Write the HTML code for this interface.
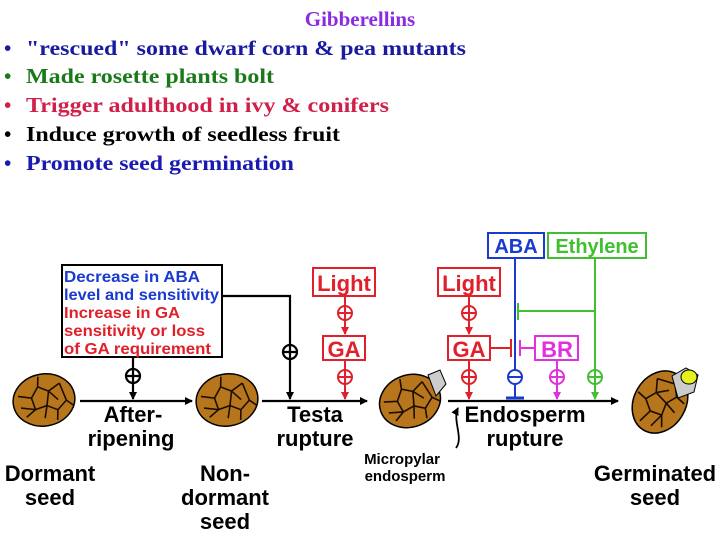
<!DOCTYPE html>
<html><head><meta charset="utf-8"><style>
html,body{margin:0;padding:0;background:#fff;width:720px;height:540px;overflow:hidden}
svg{display:block}
.s{font-family:"Liberation Serif",serif;font-weight:bold;font-size:21px}
.b{font-family:"Liberation Sans",sans-serif;font-weight:bold}
</style></head><body>
<svg width="720" height="540" viewBox="0 0 720 540" xmlns="http://www.w3.org/2000/svg">
<defs>
<marker id="ak" markerWidth="8" markerHeight="8" refX="7" refY="4" orient="auto" markerUnits="userSpaceOnUse"><path d="M0,0 L8,4 L0,8 Z" fill="#000"/></marker>
<marker id="ar" markerWidth="8" markerHeight="8" refX="7" refY="4" orient="auto" markerUnits="userSpaceOnUse"><path d="M0,0 L8,4 L0,8 Z" fill="#e0202a"/></marker>
<marker id="am" markerWidth="8" markerHeight="8" refX="7" refY="4" orient="auto" markerUnits="userSpaceOnUse"><path d="M0,0 L8,4 L0,8 Z" fill="#e030e0"/></marker>
<marker id="ag" markerWidth="8" markerHeight="8" refX="7" refY="4" orient="auto" markerUnits="userSpaceOnUse"><path d="M0,0 L8,4 L0,8 Z" fill="#40c030"/></marker>
<g id="seed">
<ellipse cx="0" cy="0" rx="31" ry="26" fill="#b8761c" stroke="#000" stroke-width="1.5"/>
<path d="M-25,-8 L-12,-4 L-4,-14 L6,-8 L18,-14 M-12,-4 L-10,8 L2,6 L6,-8 M2,6 L12,12 L22,4 L18,-14 M-10,8 L-20,14 M-24,4 L-10,8 M12,12 L10,22 M-2,18 L2,6 M22,4 L28,10 M-4,-14 L-2,-24 M6,-8 L14,2" stroke="#1a0e00" stroke-width="1.6" fill="none"/>
</g>
</defs>

<text x="360" y="26" text-anchor="middle" class="s" font-size="20" fill="#8a2be2">Gibberellins</text>
<g class="s">
<text x="4" y="55" fill="#1a1aa0">•</text><text x="26" y="55" fill="#1a1aa0" textLength="440" lengthAdjust="spacingAndGlyphs">"rescued" some dwarf corn &amp; pea mutants</text>
<text x="4" y="83" fill="#1a7a1a">•</text><text x="26" y="83" fill="#1a7a1a" textLength="248" lengthAdjust="spacingAndGlyphs">Made rosette plants bolt</text>
<text x="4" y="112" fill="#d0204a">•</text><text x="26" y="112" fill="#d0204a" textLength="363" lengthAdjust="spacingAndGlyphs">Trigger adulthood in ivy &amp; conifers</text>
<text x="4" y="141" fill="#000">•</text><text x="26" y="141" fill="#000" textLength="314" lengthAdjust="spacingAndGlyphs">Induce growth of seedless fruit</text>
<text x="4" y="170" fill="#1a1ab0">•</text><text x="26" y="170" fill="#1a1ab0" textLength="268" lengthAdjust="spacingAndGlyphs">Promote seed germination</text>
</g>

<rect x="62" y="265" width="160" height="92" fill="#fff" stroke="#000" stroke-width="2"/>
<g class="b" font-size="16">
<text x="64" y="282" fill="#1a3ad0" textLength="136" lengthAdjust="spacingAndGlyphs">Decrease in ABA</text>
<text x="64" y="300" fill="#1a3ad0" textLength="155" lengthAdjust="spacingAndGlyphs">level and sensitivity</text>
<text x="64" y="318" fill="#e0202a" textLength="116" lengthAdjust="spacingAndGlyphs">Increase in GA</text>
<text x="64" y="336" fill="#e0202a" textLength="141" lengthAdjust="spacingAndGlyphs">sensitivity or loss</text>
<text x="64" y="354" fill="#e0202a" textLength="147" lengthAdjust="spacingAndGlyphs">of GA requirement</text>
</g>

<g stroke="#000" stroke-width="2.2" fill="none">
<line x1="80" y1="401" x2="192" y2="401" marker-end="url(#ak)"/>
<line x1="262" y1="401" x2="367" y2="401" marker-end="url(#ak)"/>
<line x1="448" y1="401" x2="618" y2="401" marker-end="url(#ak)"/>
<line x1="133" y1="357" x2="133" y2="399" marker-end="url(#ak)"/>
<polyline points="222,296 290,296 290,399" marker-end="url(#ak)"/>
<circle cx="133" cy="376" r="7" fill="#fff"/><path d="M126,376 H140 M133,369 V383"/>
<circle cx="290" cy="352" r="7" fill="#fff"/><path d="M283,352 H297 M290,345 V359"/>
<path d="M456,448 C464,438 452,420 458,408" stroke-width="1.8" marker-end="url(#ak)"/>
</g>

<g stroke="#e0202a" stroke-width="2" fill="#fff">
<rect x="313" y="268" width="62" height="28"/>
<rect x="323" y="336" width="42" height="24"/>
<rect x="438" y="268" width="62" height="28"/>
<rect x="448" y="336" width="42" height="24"/>
<line x1="345" y1="296" x2="345" y2="334" marker-end="url(#ar)"/>
<line x1="345" y1="360" x2="345" y2="399" marker-end="url(#ar)"/>
<line x1="469" y1="296" x2="469" y2="334" marker-end="url(#ar)"/>
<line x1="469" y1="360" x2="469" y2="399" marker-end="url(#ar)"/>
<circle cx="345" cy="313" r="7"/><path d="M338,313 H352 M345,306 V320" fill="none"/>
<circle cx="345" cy="377" r="7"/><path d="M338,377 H352 M345,370 V384" fill="none"/>
<circle cx="469" cy="313" r="7"/><path d="M462,313 H476 M469,306 V320" fill="none"/>
<circle cx="469" cy="377" r="7"/><path d="M462,377 H476 M469,370 V384" fill="none"/>
<path d="M490,348 H511 M511,339 V357" fill="none"/>
</g>
<g class="b" font-size="22" fill="#e0202a">
<text x="344" y="291" text-anchor="middle">Light</text>
<text x="344" y="357" text-anchor="middle">GA</text>
<text x="469" y="291" text-anchor="middle">Light</text>
<text x="469" y="357" text-anchor="middle">GA</text>
</g>

<g stroke="#1a3ad0" stroke-width="2" fill="#fff">
<rect x="488" y="233" width="56" height="25"/>
<line x1="515" y1="258" x2="515" y2="398"/>
<line x1="506" y1="398" x2="524" y2="398" stroke-width="3"/>
<circle cx="515" cy="377" r="7"/><path d="M508,377 H522" fill="none"/>
</g>
<text x="516" y="253" text-anchor="middle" class="b" font-size="20" fill="#1a3ad0">ABA</text>

<g stroke="#40c030" stroke-width="2" fill="#fff">
<rect x="548" y="233" width="98" height="25"/>
<line x1="595" y1="258" x2="595" y2="399" marker-end="url(#ag)"/>
<path d="M595,311 H518 M518,303 V320" fill="none"/>
<circle cx="595" cy="377" r="7"/><path d="M588,377 H602 M595,370 V384" fill="none"/>
</g>
<text x="597" y="253" text-anchor="middle" class="b" font-size="20" fill="#40c030">Ethylene</text>

<g stroke="#e030e0" stroke-width="2" fill="#fff">
<rect x="535" y="336" width="43" height="24"/>
<path d="M535,348 H520 M520,340 V356" fill="none"/>
<line x1="557" y1="360" x2="557" y2="399" marker-end="url(#am)"/>
<circle cx="557" cy="377" r="7"/><path d="M550,377 H564 M557,370 V384" fill="none"/>
</g>
<text x="557" y="357" text-anchor="middle" class="b" font-size="22" fill="#e030e0">BR</text>

<use href="#seed" transform="translate(44,400) rotate(-10)"/>
<use href="#seed" transform="translate(227,400) rotate(-10)"/>
<use href="#seed" transform="translate(410,401) rotate(-20)"/>
<path d="M428,375 L440,370 L446,384 L436,396 Z" fill="#ccc" stroke="#000"/>
<use href="#seed" transform="translate(660,402) rotate(-60) scale(1.05,1)"/>
<path d="M672,376 L686,368 L698,375 L694,392 L678,398 Z" fill="#ccc" stroke="#000"/>
<ellipse cx="689" cy="377" rx="8" ry="7" fill="#e6f020" stroke="#000"/>

<g class="b" font-size="22" fill="#000" text-anchor="middle">
<text x="133" y="422">After-</text>
<text x="131" y="446">ripening</text>
<text x="315" y="422">Testa</text>
<text x="315" y="446">rupture</text>
<text x="525" y="422">Endosperm</text>
<text x="525" y="446">rupture</text>
<text x="50" y="481">Dormant</text>
<text x="50" y="505">seed</text>
<text x="225" y="481">Non-</text>
<text x="225" y="505">dormant</text>
<text x="225" y="529">seed</text>
<text x="655" y="481">Germinated</text>
<text x="655" y="505">seed</text>
</g>
<g class="b" font-size="15" fill="#000" text-anchor="middle">
<text x="402" y="464">Micropylar</text>
<text x="405" y="481">endosperm</text>
</g>
</svg>
</body></html>
